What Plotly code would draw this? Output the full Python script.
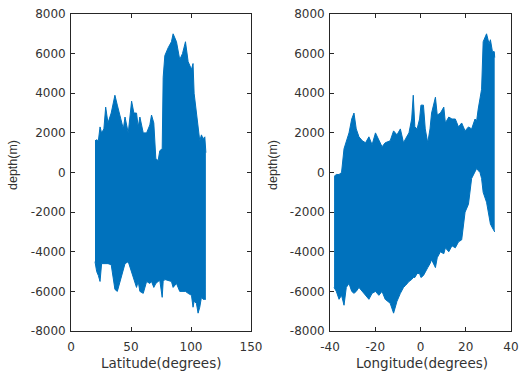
import plotly.graph_objects as go

# ---- Data (envelopes) ----
lat_x = [20, 21.4, 22.8, 24.2, 25.5, 27.4, 28.9, 30.8, 33.5, 36.6, 38.6, 40.8, 43.6, 45, 47.7, 50.5, 52.4, 54.6, 56, 57.4, 60.2, 63, 65.7, 67.1, 69, 70.7, 72.6, 74, 76, 76.8, 78.2, 81, 83.7, 85.1, 87.9, 90.6, 92.9, 95.4, 97.6, 100.4, 101.7, 102.6, 104.5, 105.9, 107.3, 108.7, 110, 111.5, 112.4]
lat_top = [1600, 1650, 1600, 2300, 2000, 2200, 3300, 2500, 3000, 3900, 3400, 2800, 2200, 2800, 2000, 3600, 3000, 3000, 2300, 2800, 2000, 2000, 2400, 2900, 2500, 700, 600, 1100, 1200, 4800, 5900, 6300, 6600, 7000, 6600, 5700, 6000, 6600, 5600, 5200, 5500, 4000, 3000, 2300, 1600, 1900, 1700, 1800, 1000]
lat_bot = [-4500, -5000, -5200, -5500, -4600, -4600, -4600, -4600, -4650, -5900, -6000, -5500, -4900, -4600, -4500, -5000, -5400, -5800, -5500, -6000, -6100, -5500, -5600, -5500, -5800, -5600, -5500, -5450, -6300, -5500, -5400, -5450, -5500, -5800, -5600, -6000, -6000, -6000, -6100, -6200, -6800, -6500, -6600, -7100, -6800, -6300, -6400, -6400, -6400]

lon_x = [-38.2, -37.2, -36, -34.9, -33.8, -32.8, -31.6, -30.4, -29.4, -28.4, -27.2, -25.7, -24.3, -22.8, -21.4, -19.9, -18.4, -17, -15.6, -13.4, -11.9, -10.4, -8.9, -7.5, -6.6, -5.1, -3.9, -3.2, -2.5, -1.5, -0.4, 0.2, 1.3, 2.1, 3.2, 4.2, 4.9, 6.6, 7.4, 8.8, 10.3, 11, 12.5, 13.9, 15.4, 16.8, 18.2, 19.7, 21.2, 22.6, 24.1, 24.8, 25.5, 26.3, 27, 27.7, 29.2, 30.3, 30.9, 31.8, 32.6, 32.8]
lon_top = [-200, -100, -100, 0, 1200, 1600, 2000, 2700, 3000, 2200, 1800, 1600, 1500, 1800, 1400, 2000, 1600, 1300, 1500, 1600, 2100, 1900, 2200, 1500, 1700, 2000, 2700, 3900, 2300, 2200, 2700, 3400, 3400, 2200, 1500, 2200, 3000, 3800, 2900, 3000, 3300, 2500, 2800, 2700, 2700, 2300, 2500, 2100, 2300, 2200, 2700, 2600, 3200, 3700, 4200, 6600, 7000, 6500, 6700, 6100, 6100, 5800]
lon_bot = [-5800, -6000, -6400, -6200, -6700, -5800, -5600, -6000, -6100, -6000, -5800, -6000, -6200, -6400, -6100, -6000, -6200, -6000, -6400, -6600, -7100, -6500, -6100, -5800, -5700, -5500, -5400, -5300, -5300, -5100, -5100, -5300, -5200, -5000, -4800, -4600, -4400, -4800, -4300, -4000, -4100, -3800, -4000, -3700, -3800, -3500, -3400, -2000, -1600, -300, 0, 200, 100, 0, -300, -1000, -1500, -2300, -2600, -2800, -3000, -3000]

y_ticks = [-8000, -6000, -4000, -2000, 0, 2000, 4000, 6000, 8000]
y_ticktext = ["-8000", "-6000", "-4000", "-2000", "0", "2000", "4000", "6000", "8000"]
lat_ticks = [0, 50, 100, 150]
lat_ticktext = ["0", "50", "100", "150"]
lon_ticks = [-40, -20, 0, 20, 40]
lon_ticktext = ["-40", "-20", "0", "20", "40"]

BLUE = "rgb(0,114,189)"
TXT = "#333333"
W, H = 519, 375

fig = go.Figure()
fig.add_trace(go.Scatter(x=lat_x, y=lat_bot, mode="lines", line=dict(color=BLUE, width=1),
                         xaxis="x", yaxis="y", showlegend=False, hoverinfo="skip"))
fig.add_trace(go.Scatter(x=lat_x, y=lat_top, mode="lines", line=dict(color=BLUE, width=1),
                         fill="tonexty", fillcolor=BLUE, xaxis="x", yaxis="y", showlegend=False))
fig.add_trace(go.Scatter(x=lon_x, y=lon_bot, mode="lines", line=dict(color=BLUE, width=1),
                         xaxis="x2", yaxis="y2", showlegend=False, hoverinfo="skip"))
fig.add_trace(go.Scatter(x=lon_x, y=lon_top, mode="lines", line=dict(color=BLUE, width=1),
                         fill="tonexty", fillcolor=BLUE, xaxis="x2", yaxis="y2", showlegend=False))

ydom = [1 - 331 / H, 1 - 14 / H]
tickfont = dict(family="DejaVu Sans", size=12, color=TXT)
common = dict(showline=True, mirror="ticks", linecolor="#262626", linewidth=0.8, ticks="inside",
              ticklen=4, tickcolor="#262626", showgrid=False, zeroline=False, automargin=False,
              tickfont=tickfont)

fig.update_layout(
    width=W, height=H, margin=dict(l=0, r=0, t=0, b=0),
    paper_bgcolor="white", plot_bgcolor="white",
    xaxis=dict(domain=[71 / W, 251 / W], range=[0, 150], tickvals=lat_ticks, ticktext=lat_ticktext,
               anchor="y", ticklabelstandoff=5, **common),
    yaxis=dict(domain=ydom, range=[-8000, 8000], tickvals=y_ticks, ticktext=y_ticktext,
               anchor="x", ticklabelstandoff=2, **common),
    xaxis2=dict(domain=[330 / W, 511 / W], range=[-40, 40], tickvals=lon_ticks, ticktext=lon_ticktext,
                anchor="y2", ticklabelstandoff=5, **common),
    yaxis2=dict(domain=ydom, range=[-8000, 8000], tickvals=y_ticks, ticktext=y_ticktext,
                anchor="x2", ticklabelstandoff=2, **common),
)

tf_h = dict(family="DejaVu Sans", size=13.5, color=TXT)
tf_v = dict(family="Liberation Sans, Arial", size=12.5, color=TXT)
ann = [
    dict(text="depth(m)", x=13 / W, y=1 - 165 / H, textangle=-90, font=tf_v),
    dict(text="depth(m)", x=273 / W, y=1 - 165 / H, textangle=-90, font=tf_v),
    dict(text="Latitude(degrees)", x=161 / W, y=1 - 363 / H, font=tf_h),
    dict(text="Longitude(degrees)", x=422 / W, y=1 - 363 / H, font=tf_h),
]
for a in ann:
    fig.add_annotation(xref="paper", yref="paper", showarrow=False,
                       xanchor="center", yanchor="middle", **a)

fig.write_html("out.html", config={"displayModeBar": False},
               post_script="document.body.style.margin='0';document.body.style.overflow='hidden';")
